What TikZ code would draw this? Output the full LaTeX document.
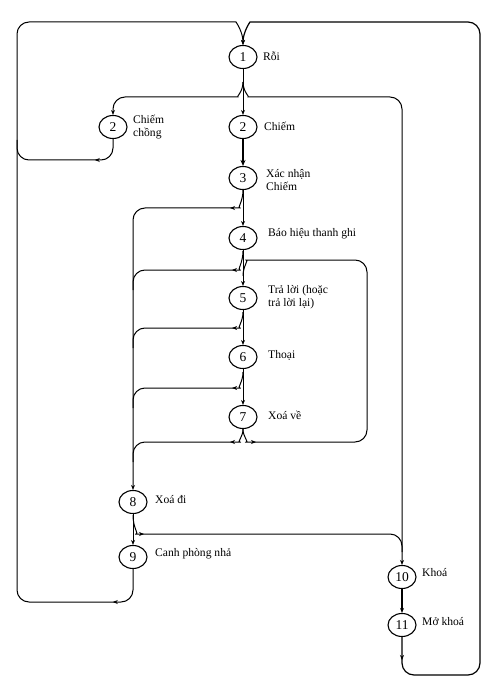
\documentclass[tikz,border=0pt]{standalone}
\usepackage{fontspec}
\setmainfont{Liberation Serif}
\usetikzlibrary{shapes.geometric,arrows.meta,decorations.markings}
\begin{document}
\begin{tikzpicture}[x=1pt,y=1pt,
  st/.style={ellipse,draw,line width=1.1pt,minimum width=28pt,minimum height=23pt,inner sep=0pt,font=\fontsize{13.5}{13.5}\selectfont},
  lbl/.style={anchor=west,align=left,inner sep=0pt,font=\fontsize{11.6}{13}\selectfont},
  ln/.style={line width=1pt},
  tip/.style={-{Stealth[length=5pt,width=4pt]}},
  rc/.style={rounded corners=12pt},
  midarr/.style={postaction={decorate},decoration={markings,mark=at position #1 with {\arrow{Stealth[length=5pt,width=4pt]}}}},
]
\useasboundingbox (0,0) rectangle (486,-684);

% states
\node[st] (n1) at (243,-57) {1};
\node[st] (n2a) at (113,-127) {2};
\node[st] (n2) at (243,-127) {2};
\node[st] (n3) at (243,-178) {3};
\node[st] (n4) at (243,-238) {4};
\node[st] (n5) at (243,-298) {5};
\node[st] (n6) at (243,-357) {6};
\node[st] (n7) at (243,-417) {7};
\node[st] (n8) at (133,-502) {8};
\node[st] (n9) at (133,-557) {9};
\node[st] (n10) at (402,-577) {10};
\node[st] (n11) at (402,-625) {11};

% labels
\node[lbl] (l1) at (263,-56) {Rỗi};
\node[lbl] (l2a) at (133,-127) {Chiếm\\chồng};
\node[lbl] (l2) at (264,-126) {Chiếm};
\node[lbl] (l3) at (266,-180) {Xác nhận\\Chiếm};
\node[lbl] (l4) at (268,-234) {Báo hiệu thanh ghi};
\node[lbl] (l5) at (268,-297) {Trả lời (hoặc\\trả lời lại)};
\node[lbl] (l6) at (268,-355) {Thoại};
\node[lbl] (l7) at (268,-415) {Xoá về};
\node[lbl] (l8) at (155,-500) {Xoá đi};
\node[lbl] (l9) at (155,-554) {Canh phòng nhả};
\node[lbl] (l10) at (422,-573) {Khoá};
\node[lbl] (l11) at (422,-622) {Mở khoá};

% junction coordinates
\coordinate (j1) at (243,-82);
\coordinate (b3) at (243,-190);
\coordinate (b4) at (243,-251);
\coordinate (b5) at (243,-312);
\coordinate (b6) at (243,-372);
\coordinate (b7) at (243,-429);
\coordinate (b5in) at (243,-276);
\coordinate (b8) at (133,-515);
\coordinate (m4) at (133,-290);
\coordinate (m5) at (133,-348);
\coordinate (m6) at (133,-408);
\coordinate (m7) at (133,-462);
\coordinate (m10) at (402,-552);
\coordinate (m2a) at (17,-140);

% from state 1
\draw[ln] (n1.south) -- (j1);
\draw[ln,tip] (j1) -- (n2.north);
\draw[ln,tip,rc] (j1) .. controls (243,-92) and (236,-97) .. (226,-97) -- (113,-97) -- (n2a.north);
\draw[ln,tip,rc] (j1) .. controls (243,-92) and (250,-97) .. (260,-97) -- (402,-97) -- (n10.north);

% main chain
\draw[line width=1.7pt,-{Stealth[length=6pt,width=5pt]}] (n2.south) -- (n3.north);
\draw[ln,tip] (n3.south) -- (n4.north);
\draw[ln,tip] (n4.south) -- (n5.north);
\draw[ln,tip] (n5.south) -- (n6.north);
\draw[ln,tip] (n6.south) -- (n7.north);
\draw[ln,tip] (n8.south) -- (n9.north);
\draw[line width=1.4pt,tip] (n10.south) -- (n11.north);

% branches to "Xoa di"
\draw[ln,tip,rc,midarr=29pt] (b3) .. controls (243,-202) and (237,-208) .. (228,-208) -- (133,-208) -- (n8.north);
\draw[ln,rc,midarr=28pt] (b4) .. controls (243,-263) and (237,-270) .. (228,-270) -- (133,-270) -- (m4);
\draw[ln,rc,midarr=25pt] (b5) .. controls (243,-322) and (237,-328) .. (228,-328) -- (133,-328) -- (m5);
\draw[ln,rc,midarr=25pt] (b6) .. controls (243,-382) and (237,-388) .. (228,-388) -- (133,-388) -- (m6);
\draw[ln,rc,midarr=24pt] (b7) .. controls (243,-437) and (237,-442) .. (228,-442) -- (133,-442) -- (m7);

% loop 7 -> 5
\draw[ln,rc,midarr=24pt] (b7) .. controls (243,-437) and (249,-442) .. (258,-442) -- (367,-442) -- (367,-260) -- (258,-260) .. controls (249,-260) and (243,-266) .. (b5in);

% branch 8 -> 10
\draw[ln,rc,midarr=28pt] (b8) .. controls (133,-528) and (139,-534) .. (148,-534) -- (402,-534) -- (m10);

% dual seizure loop back
\draw[ln,rc,midarr=34pt] (n2a.south) -- (113,-160) -- (17,-160) -- (m2a);

% release guard back to idle
\draw[ln,tip,rc,midarr=48pt] (n9.south) -- (133,-602) -- (17,-602) -- (17,-22) -- (224,-22) .. controls (236,-22) and (243,-32) .. (n1.north);

% unblock back to idle
\draw[line width=1.2pt,tip,rc,midarr=23pt] (n11.south) -- (402,-675) -- (480,-675) -- (480,-22) -- (262,-22) .. controls (250,-22) and (243,-32) .. (n1.north);
\end{tikzpicture}
\end{document}
